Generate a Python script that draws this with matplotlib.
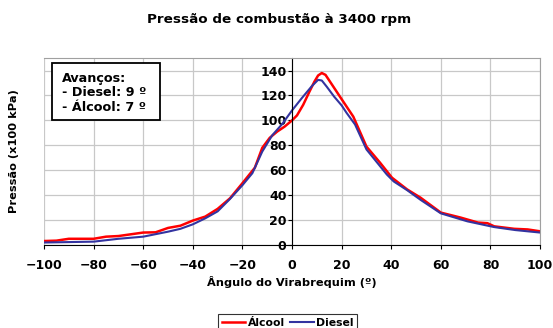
import matplotlib.pyplot as plt
from matplotlib.patches import Rectangle

# crank angle (deg) and pressure (x100 kPa)
alcool_x = [-100, -95, -90, -80, -75, -70, -65, -60, -55, -50, -45, -40, -35,
            -30, -25, -20, -15, -12, -9, -6, -3, 0, 2, 4.5, 7, 9, 10.5, 12, 13.5,
            16, 20, 24.7, 30, 35.5, 40.3, 46.4, 51.8, 60, 68, 75, 78.8, 81.5,
            89.6, 95, 100]
alcool_y = [3.2, 3.5, 5, 5, 6.7, 7.2, 8.6, 10, 10.2, 13.7, 15.5, 19.6, 22.8,
            29, 37.5, 49.6, 62, 78, 86, 91, 95, 100, 104, 112.5, 123, 131,
            136, 138, 136.5, 129, 117, 103, 79, 66, 54, 44.6, 38, 26, 22, 18,
            17.5, 15, 13, 12.5, 11]

diesel_x = [-100, -80, -70, -60, -50, -45, -40, -35, -30, -25, -20, -16, -12,
            -8, -4, 0, 4, 8, 10.5, 12, 14, 17, 20, 22, 25.4, 30, 38.2, 41, 46.4,
            52, 60, 70.7, 81.5, 90, 100]
diesel_y = [2, 2.7, 5, 6.7, 10.7, 13, 16.6, 21.4, 27, 37, 48, 57.6, 75,
            88, 97, 108, 118, 127.5, 132.5, 132, 127, 119, 112, 106, 96.7,
            76.7, 56.6, 51, 44, 36, 25.4, 19, 14.4, 12, 10]

x_ticks = list(range(-100, 101, 20))
y_ticks = list(range(0, 141, 20))

fig = plt.figure(figsize=(5.53, 3.28), dpi=100)
ax = fig.add_axes([0.0796, 0.253, 0.897, 0.570])

ax.plot(alcool_x, alcool_y, color="#ff0000", linewidth=1.8, label="Álcool")
ax.plot(diesel_x, diesel_y, color="#3333a0", linewidth=1.5, label="Diesel")

ax.set_xlim(-100, 100)
ax.set_ylim(0, 150)
ax.set_xticks(x_ticks)
ax.set_yticks(y_ticks)
ax.grid(True, color="#c8c8c8", linewidth=0.9)
ax.set_axisbelow(True)

# y axis crosses at x = 0
ax.spines["left"].set_position(("data", 0))
ax.spines["left"].set_color("black")
ax.spines["bottom"].set_color("black")
for side in ("top", "right"):
    ax.spines[side].set_color("#a0a0a0")
ax.axvline(-100, color="#a0a0a0", linewidth=1.2, zorder=0)

ax.tick_params(axis="both", labelsize=9, length=3, width=0.8)
for lbl in ax.get_xticklabels() + ax.get_yticklabels():
    lbl.set_fontweight("bold")
ax.tick_params(axis="x", pad=7)
ax.tick_params(axis="y", pad=1)

ax.set_xlabel("Ângulo do Virabrequim (º)", fontsize=8.2, fontweight="bold", labelpad=3)
fig.text(0.026, 0.54, "Pressão (x100 kPa)", rotation=90, ha="center", va="center",
         fontsize=8.2, fontweight="bold")

fig.suptitle("Pressão de combustão à 3400 rpm", x=0.505, y=0.96,
             fontsize=9.7, fontweight="bold")

# note box with the ignition advances
fig.patches.append(Rectangle((0.094, 0.634), 0.195, 0.174, transform=fig.transFigure,
                             facecolor="white", edgecolor="black", linewidth=1.3,
                             zorder=5))
fig.text(0.112, 0.781, "Avanços:\n- Diesel: 9 º\n- Álcool: 7 º", fontsize=9.2,
         fontweight="bold", va="top", ha="left", linespacing=1.15, zorder=6)

leg = fig.legend(loc="lower center", bbox_to_anchor=(0.52, -0.025), ncol=2,
                 frameon=True, fancybox=False, handlelength=2.2,
                 columnspacing=0.5, handletextpad=0.2, borderpad=0.3,
                 prop={"weight": "bold", "size": 7.8})
leg.get_frame().set_edgecolor("black")
leg.get_frame().set_linewidth(0.8)

fig.savefig("out.png", dpi=100, facecolor="white")
